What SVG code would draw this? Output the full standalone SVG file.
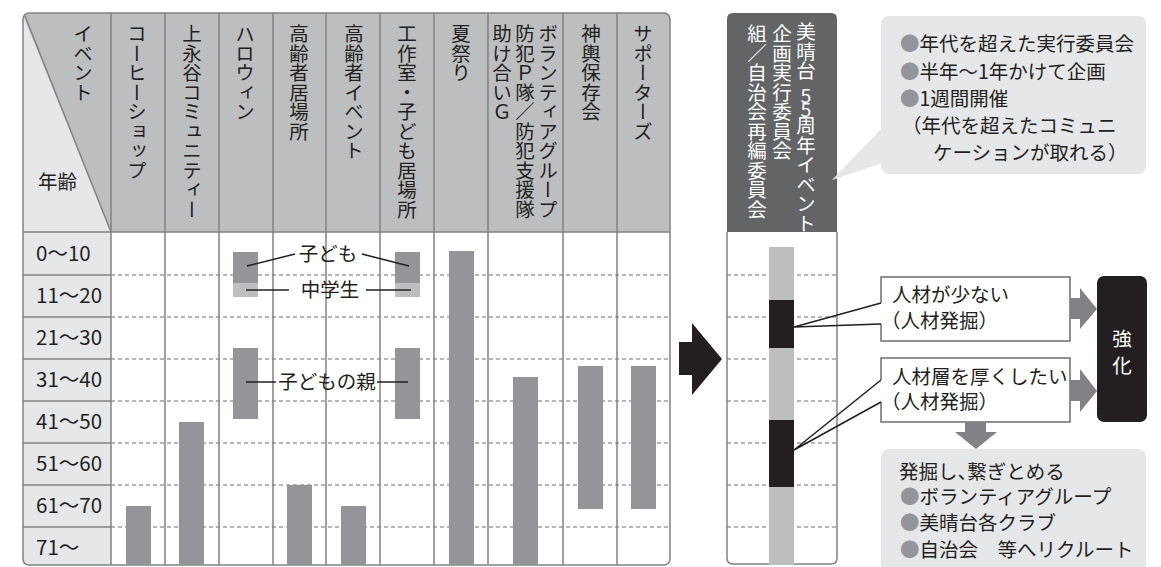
<svg xmlns="http://www.w3.org/2000/svg" width="1161" height="567" viewBox="0 0 1161 567">
<style>
text{font-family:"Noto Sans CJK JP","Noto Sans",sans-serif;fill:#231f20;font-size:19.5px}
.v{writing-mode:vertical-rl;text-orientation:upright}
.w{fill:#ffffff}
.row{font-size:20.5px}
.grid{stroke:#808285;stroke-width:1.5;fill:none}
.dash{stroke:#6d6e71;stroke-width:1.2;stroke-dasharray:4 3}
.bar{fill:#939598}
.lbar{fill:#bcbec0}
.blk{fill:#231f20}
.lead{stroke:#231f20;stroke-width:1.5;fill:none}
.bul{fill:#939598}
.garrow{fill:#808285}
.mid{text-anchor:middle}
.halt{font-feature-settings:"halt" 1}
</style>

<g id="table">
  <path d="M23,232 V19 Q23,13 29,13 H664 Q670,13 670,19 V232 Z" fill="#bcbec0"/>
  <polygon points="23,15 111,232 23,232" fill="#e6e7e8"/>
  <rect x="23" y="232" width="88" height="333" fill="#e6e7e8"/>
  <line x1="25" y1="16" x2="111" y2="232" class="grid"/>
  <g class="dash">
    <line x1="111" y1="275" x2="670" y2="275"/>
    <line x1="111" y1="317" x2="670" y2="317"/>
    <line x1="111" y1="359" x2="670" y2="359"/>
    <line x1="111" y1="401" x2="670" y2="401"/>
    <line x1="111" y1="443" x2="670" y2="443"/>
    <line x1="111" y1="485" x2="670" y2="485"/>
    <line x1="111" y1="527" x2="670" y2="527"/>
  </g>
  <g class="grid">
    <line x1="23" y1="275" x2="111" y2="275"/>
    <line x1="23" y1="317" x2="111" y2="317"/>
    <line x1="23" y1="359" x2="111" y2="359"/>
    <line x1="23" y1="401" x2="111" y2="401"/>
    <line x1="23" y1="443" x2="111" y2="443"/>
    <line x1="23" y1="485" x2="111" y2="485"/>
    <line x1="23" y1="527" x2="111" y2="527"/>
    <line x1="23" y1="232" x2="670" y2="232"/>
    <line x1="111" y1="13" x2="111" y2="565"/>
    <line x1="165" y1="13" x2="165" y2="565"/>
    <line x1="219" y1="13" x2="219" y2="565"/>
    <line x1="273" y1="13" x2="273" y2="565"/>
    <line x1="326" y1="13" x2="326" y2="565"/>
    <line x1="380" y1="13" x2="380" y2="565"/>
    <line x1="434" y1="13" x2="434" y2="565"/>
    <line x1="488" y1="13" x2="488" y2="565"/>
    <line x1="563" y1="13" x2="563" y2="565"/>
    <line x1="617" y1="13" x2="617" y2="565"/>
    <rect x="23" y="13" width="647" height="552" rx="6"/>
  </g>
  <text x="38" y="189">年齢</text>
  <text x="83" y="24" class="v">イベント</text>
  <text x="137" y="24" class="v">コーヒーショップ</text>
  <text x="192" y="24" class="v">上永谷コミュニティー</text>
  <text x="245" y="24" class="v">ハロウィン</text>
  <text x="299" y="24" class="v">高齢者居場所</text>
  <text x="354" y="24" class="v">高齢者イベント</text>
  <text x="407" y="24" class="v">工作室・子ども居場所</text>
  <text x="461" y="24" class="v">夏祭り</text>
  <text x="502" y="24" class="v">助け合いＧ</text>
  <text x="525" y="24" class="v">防犯Ｐ隊／防犯支援隊</text>
  <text x="548" y="24" class="v">ボランティアグループ</text>
  <text x="591" y="24" class="v">神輿保存会</text>
  <text x="643" y="24" class="v">サポーターズ</text>
  <text x="36" y="261" class="row">0～10</text>
  <text x="36" y="303" class="row">11～20</text>
  <text x="36" y="345" class="row">21～30</text>
  <text x="36" y="387" class="row">31～40</text>
  <text x="36" y="429" class="row">41～50</text>
  <text x="36" y="471" class="row">51～60</text>
  <text x="36" y="513" class="row">61～70</text>
  <text x="36" y="555" class="row">71～</text>
</g>

<g id="bars">
  <rect x="126" y="506" width="25" height="59" class="bar"/>
  <rect x="179" y="422" width="25" height="143" class="bar"/>
  <rect x="233" y="252" width="25" height="31" class="bar"/>
  <rect x="233" y="283" width="25" height="14" class="lbar"/>
  <rect x="233" y="348" width="25" height="71" class="bar"/>
  <rect x="287" y="485" width="25" height="80" class="bar"/>
  <rect x="341" y="506" width="25" height="59" class="bar"/>
  <rect x="395" y="252" width="25" height="31" class="bar"/>
  <rect x="395" y="283" width="25" height="14" class="lbar"/>
  <rect x="395" y="348" width="25" height="71" class="bar"/>
  <rect x="449" y="251" width="25" height="314" class="bar"/>
  <rect x="513" y="377" width="25" height="188" class="bar"/>
  <rect x="578" y="366" width="25" height="143" class="bar"/>
  <rect x="631" y="366" width="25" height="143" class="bar"/>
</g>

<g id="labels">
  <line x1="247" y1="266" x2="295" y2="254" class="lead"/>
  <line x1="362" y1="254" x2="409" y2="266" class="lead"/>
  <text x="328" y="261" class="mid">子ども</text>
  <line x1="246" y1="290" x2="289" y2="290" class="lead"/>
  <line x1="366" y1="290" x2="411" y2="290" class="lead"/>
  <text x="330" y="297" class="mid">中学生</text>
  <line x1="246" y1="382" x2="276" y2="382" class="lead"/>
  <line x1="377" y1="382" x2="408" y2="382" class="lead"/>
  <text x="327" y="389" class="mid">子どもの親</text>
</g>

<g id="bigArrow">
  <polygon points="679,342 692,342 692,323 722,359 692,395 692,375 679,375" class="blk"/>
</g>

<g id="rightColumn">
  <path d="M727,232 V19 Q727,13 733,13 H831 Q837,13 837,19 V232 Z" fill="#636466"/>
  <g class="dash">
    <line x1="727" y1="275" x2="837" y2="275"/>
    <line x1="727" y1="317" x2="837" y2="317"/>
    <line x1="727" y1="359" x2="837" y2="359"/>
    <line x1="727" y1="401" x2="837" y2="401"/>
    <line x1="727" y1="443" x2="837" y2="443"/>
    <line x1="727" y1="485" x2="837" y2="485"/>
    <line x1="727" y1="527" x2="837" y2="527"/>
  </g>
  <path d="M727,232 V558 Q727,564 733,564 H831 Q837,564 837,558 V232" class="grid"/>
  <rect x="769" y="247" width="25" height="53" class="lbar"/>
  <rect x="769" y="300" width="25" height="48" class="blk"/>
  <rect x="769" y="348" width="25" height="72" class="lbar"/>
  <rect x="769" y="420" width="25" height="67" class="blk"/>
  <rect x="769" y="487" width="25" height="78" class="lbar"/>
  <text x="806" y="22" class="v w">美晴台</text>
  <text x="806" y="86" class="v w" font-size="18" letter-spacing="-5.5">55</text>
  <text x="806" y="116" class="v w">周年イベント</text>
  <text x="782" y="24" class="v w">企画実行委員会</text>
  <text x="757" y="24" class="v w">組／自治会再編委員会</text>
</g>

<g id="topCallout">
  <rect x="881" y="16" width="265" height="158" rx="8" fill="#e6e7e8"/>
  <polygon points="882,128 832,180 882,163" fill="#e6e7e8"/>
  <text x="900" y="51"><tspan class="bul">●</tspan>年代を超えた実行委員会</text>
  <text x="900" y="79"><tspan class="bul">●</tspan>半年～1年かけて企画</text>
  <text x="900" y="106"><tspan class="bul">●</tspan>1週間開催</text>
  <text x="902" y="133">（年代を超えたコミュニ</text>
  <text x="933" y="160">ケーションが取れる）</text>
</g>

<g id="box1">
  <path d="M881,303 V277 H1070 V341 H881 V324" fill="#ffffff" stroke="#6d6e71" stroke-width="1.5"/>
  <polyline points="881,303 794,327 881,324" class="lead" stroke-width="1"/>
  <text x="892" y="302">人材が少ない</text>
  <text x="881" y="328">（人材発掘）</text>
</g>

<g id="box2">
  <path d="M881,380 V358 H1070 V422 H881 V402" fill="#ffffff" stroke="#6d6e71" stroke-width="1.5"/>
  <polyline points="881,380 794,450 881,402" class="lead" stroke-width="1"/>
  <text x="892" y="384">人材層を厚くしたい</text>
  <text x="881" y="409">（人材発掘）</text>
</g>

<g id="strengthen">
  <rect x="1097" y="276" width="50" height="146" rx="7" class="blk"/>
  <text x="1122" y="346" class="mid w" font-size="20">強</text>
  <text x="1122" y="373" class="mid w" font-size="20">化</text>
</g>

<g id="connectors">
  <polygon points="1070,298 1080,298 1080,288 1097,309 1080,329 1080,319 1070,319" class="garrow"/>
  <polygon points="1070,380 1080,380 1080,369 1097,391 1080,412 1080,401 1070,401" class="garrow"/>
  <polygon points="965,422 986,422 986,432 997,432 976,449 955,432 965,432" class="garrow"/>
</g>

<g id="bottomBox">
  <rect x="881" y="449" width="265" height="130" rx="8" fill="#e6e7e8"/>
  <text x="899" y="479" class="halt">発掘し、繋ぎとめる</text>
  <text x="900" y="504"><tspan class="bul">●</tspan>ボランティアグループ</text>
  <text x="900" y="530"><tspan class="bul">●</tspan>美晴台各クラブ</text>
  <text x="900" y="557"><tspan class="bul">●</tspan>自治会　等へリクルート</text>
</g>
</svg>
